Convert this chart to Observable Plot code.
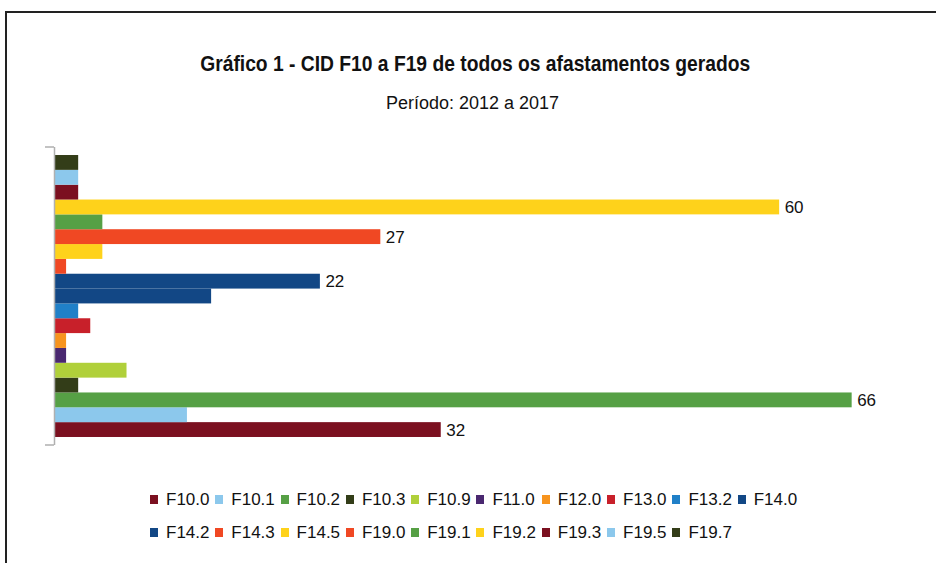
<!DOCTYPE html>
<html><head><meta charset="utf-8">
<script src="https://cdn.jsdelivr.net/npm/d3@7"></script>
<script src="https://cdn.jsdelivr.net/npm/@observablehq/plot@0.6"></script>
<style>
body{margin:0;background:#fff;font-family:"Liberation Sans",Arial,sans-serif;}
#wrap{position:relative;width:936px;height:563px;overflow:hidden;background:#fff;}
#border{position:absolute;left:5px;top:11px;width:1000px;height:700px;border-top:2px solid #222;border-left:2px solid #222;}
.line{position:absolute;left:0;width:950px;text-align:center;color:#111;white-space:nowrap;}
.line span{display:inline-block;transform-origin:50% 50%;}
#title{top:51px;font-weight:bold;font-size:22px;}
#subtitle{top:93px;font-size:18px;width:946px;}
#chart{position:absolute;left:0;top:140px;}
#legend{position:absolute;left:149px;top:490px;width:660px;display:flex;flex-wrap:wrap;font-size:17px;color:#111;}
.item{width:65.3px;height:33px;display:flex;align-items:flex-start;white-space:nowrap;}
.sw{width:8px;height:9px;margin:5px 8px 0 1px;flex:none;}
</style></head>
<body>
<div id="wrap">
<div id="border"></div>
<div class="line" id="title"><span>Gráfico 1 - CID F10 a F19 de todos os afastamentos gerados</span></div>
<div class="line" id="subtitle"><span>Período: 2012 a 2017</span></div>
<div id="chart"></div>
<div id="legend"></div>
</div>
<script>
const categories = ["F10.0","F10.1","F10.2","F10.3","F10.9","F11.0","F12.0","F13.0","F13.2","F14.0","F14.2","F14.3","F14.5","F19.0","F19.1","F19.2","F19.3","F19.5","F19.7"];
const values = [32, 11, 66, 2, 6, 1, 1, 3, 2, 13, 22, 1, 4, 27, 4, 60, 2, 2, 2];
const colors = ["#7b1020","#8cc8ec","#56a045","#333d18","#b0d03a","#4a2870","#f7941e","#c8202a","#2080c8","#124785","#124785","#f04823","#fed21b","#f04823","#56a045","#fed21b","#7b1020","#8cc8ec","#333d18"];

const data = categories.map((c, i) => ({cat: c, value: values[i]}));

const endTicks = (index, scales, values, dims) => {
  const x0 = dims.marginLeft, t = dims.marginTop, b = dims.height - dims.marginBottom;
  const g = document.createElementNS("http://www.w3.org/2000/svg", "path");
  g.setAttribute("d", `M${x0 - 9},${t}H${x0}M${x0 - 9},${b}H${x0}`);
  g.setAttribute("stroke", "#b0b0b0");
  g.setAttribute("stroke-width", "1.5");
  g.setAttribute("fill", "none");
  return g;
};

const plot = Plot.plot({
  width: 936,
  height: 320,
  marginLeft: 54,
  marginRight: 36,
  marginTop: 7,
  marginBottom: 15,
  x: {domain: [0, 70], axis: null},
  y: {domain: categories.slice().reverse(), paddingInner: 0, paddingOuter: 0.54, round: false, axis: null},
  color: {domain: categories, range: colors},
  style: {fontFamily: "'Liberation Sans', Arial, sans-serif", background: "transparent"},
  marks: [
    Plot.barX(data, {x: "value", y: "cat", fill: "cat"}),
    Plot.ruleX([0], {stroke: "#b0b0b0", strokeWidth: 1.5}),
    endTicks,
    Plot.text(data.filter(d => d.value > 15), {x: "value", y: "cat", text: d => String(d.value), textAnchor: "start", dx: 5, fontSize: 17, fill: "#111"})
  ]
});
document.getElementById("chart").appendChild(plot);

const legend = document.getElementById("legend");
categories.forEach((c, i) => {
  const it = document.createElement("div");
  it.className = "item";
  const sw = document.createElement("span");
  sw.className = "sw";
  sw.style.background = colors[i];
  const tx = document.createElement("span");
  tx.textContent = c;
  it.appendChild(sw); it.appendChild(tx);
  legend.appendChild(it);
});

// condense title lines to the reference widths
[["#title span", 550], ["#subtitle span", 173]].forEach(([sel, w]) => {
  const el = document.querySelector(sel);
  const k = w / el.getBoundingClientRect().width;
  el.style.transform = `scaleX(${k})`;
});
</script>
</body></html>
